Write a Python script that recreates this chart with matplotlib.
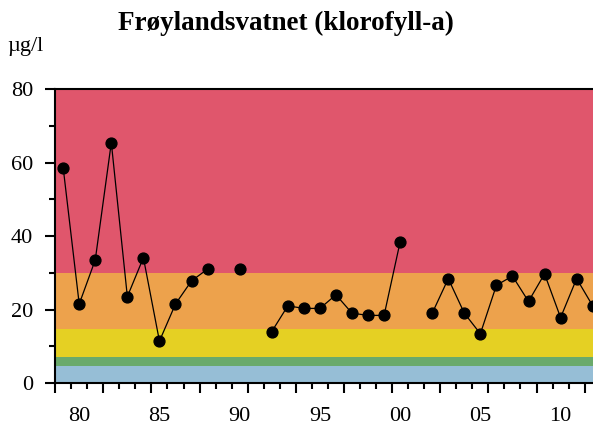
import numpy as np
import matplotlib.pyplot as plt

# Klorofyll-a, årlig middel (µg/l); NaN = ingen måling
years = list(range(1979, 2013))
chla = [58.6, 21.5, 33.5, 65.4, 23.5, 34.1, 11.4, 21.5, 27.8, 31.0,
        np.nan, 31.0, np.nan, 14.0, 21.0, 20.3, 20.3, 24.0, 19.0, 18.4,
        18.4, 38.4, np.nan, 19.0, 28.4, 19.0, 13.4, 26.6, 29.1, 22.2,
        29.7, 17.8, 28.4, 21.0]

# Tilstandsklasser: grenser og farger
class_limits = [0, 4.7, 7.2, 14.8, 30, 80]
class_colors = ["#96bed6", "#6aaa6b", "#e5d023", "#eda24c", "#e0566c"]

xtick_years = [1980, 1985, 1990, 1995, 2000, 2005, 2010]
xtick_labels = ["80", "85", "90", "95", "00", "05", "10"]

plt.rcParams["font.family"] = ["Liberation Serif", "DejaVu Serif"]

fig = plt.figure(figsize=(5.93, 4.34), dpi=100)
ax = fig.add_axes([0.093, 0.1175, 0.92, 0.6774])

for lo, hi, c in zip(class_limits[:-1], class_limits[1:], class_colors):
    ax.axhspan(lo, hi, color=c, lw=0, zorder=0)

ax.plot(years, chla, color="black", lw=0.9, marker="o", ms=7.8, zorder=3)

ax.set_xlim(1978.5, 2012.5)
ax.set_ylim(0, 80)

# årstall midt i hvert år, tikkmerker mellom årene
ax.set_xticks(xtick_years)
ax.set_xticklabels(xtick_labels, fontsize=16)
ax.tick_params(axis="x", which="major", length=0, pad=17)
ax.set_xticks(np.arange(1978.5, 2013, 1), minor=True)
ax.tick_params(axis="x", which="minor", length=4, width=1.5, direction="out")
for i, t in enumerate(ax.xaxis.get_minor_ticks()):
    if i % 3 == 0:
        t.tick1line.set_markersize(7)

ax.set_yticks([0, 20, 40, 60, 80])
ax.set_yticks([10, 30, 50, 70], minor=True)
ax.tick_params(axis="y", which="major", length=7, width=1.5, pad=9, labelsize=16)
ax.tick_params(axis="y", which="minor", length=4, width=1.5)

ax.spines["right"].set_visible(False)
for s in ["left", "bottom", "top"]:
    ax.spines[s].set_linewidth(1.5)

fig.text(0.483, 0.947, "Frøylandsvatnet (klorofyll-a)", ha="center", va="center",
         fontsize=19.5, fontweight="bold")
fig.text(0.013, 0.893, "µg/l", ha="left", va="center", fontsize=16)

fig.savefig("out.png", dpi=100)
